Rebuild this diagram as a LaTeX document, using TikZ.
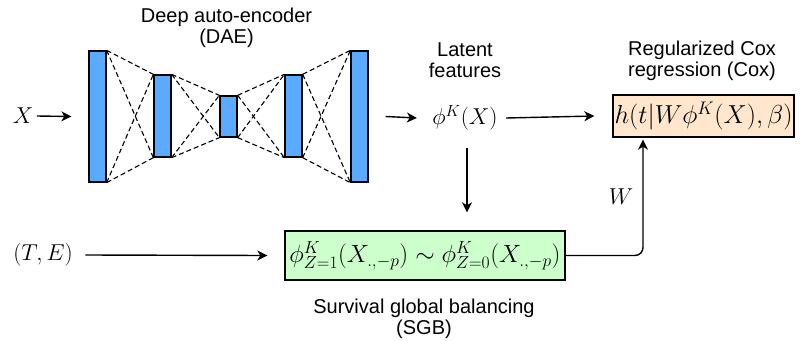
\documentclass[tikz,border=0pt]{standalone}
\usepackage{fix-cm}
\usepackage[no-math]{fontspec}
\newfontfamily\labelfont{Liberation Sans}
\usepackage{tikz}
\usetikzlibrary{arrows.meta,calc,positioning}
\definecolor{daeblue}{HTML}{5AAAFF}
\definecolor{coxfill}{HTML}{FFE6CC}
\definecolor{sgbfill}{HTML}{CCFFCC}

\tikzset{
  layer/.style={draw, line width=1.3pt, fill=daeblue, minimum width=17pt, inner sep=0pt},
  link/.style={line width=1.1pt, dash pattern=on 5pt off 3pt},
  arr/.style={line width=1.4pt, -{Stealth[length=10pt,width=10pt,inset=3pt]}},
  caption/.style={font=\labelfont\fontsize{20}{21}\selectfont, align=center},
  mlabel/.style={font=\fontsize{23}{27}\selectfont},
  mbox/.style={draw, line width=1.4pt, inner sep=0pt}
}

\begin{document}
\begin{tikzpicture}[x=1pt, y=-1pt]
    \useasboundingbox (0,0) rectangle (805,340);

    % auto-encoder layers
    \node[layer, minimum height=131pt] (l1) at (97.5,116.5) {};
    \node[layer, minimum height=82pt]  (l2) at (162.5,116) {};
    \node[layer, minimum height=41pt]  (l3) at (228.5,116.5) {};
    \node[layer, minimum height=82pt]  (l4) at (293.5,116) {};
    \node[layer, minimum height=131pt] (l5) at (359.5,116.5) {};
    \foreach \a/\b in {l1/l2, l2/l3, l3/l4, l4/l5} {
        \draw[link] (\a.north east) -- (\b.north west);
        \draw[link] (\a.north east) -- (\b.south west);
        \draw[link] (\a.south east) -- (\b.north west);
        \draw[link] (\a.south east) -- (\b.south west);
    }
    \node[caption] (daecap) at (226.5,28) {Deep auto-encoder\\(DAE)};

    % inputs and latent features
    \node[mlabel] (x) at (23,116) {$X$};
    \node[mlabel] (te) at (43,255) {$(T,E)$};
    \node[mlabel] (phi) at (465,118) {$\phi^K(X)$};
    \node[caption] (latcap) at (465,60) {Latent\\features};

    % Cox and SGB boxes
    \node[mbox, fill=coxfill, minimum width=181pt, minimum height=42pt,
          font=\fontsize{26}{30}\selectfont] (cox) at (703.5,116)
          {$h(t|W\phi^K(X),\beta)$};
    \node[caption] (coxcap) at (702,61) {Regularized Cox\\regression (Cox)};
    \node[mbox, fill=sgbfill, minimum width=280pt, minimum height=49pt,
          font=\fontsize{25}{29}\selectfont] (sgb) at (425,255.5)
          {$\phi^K_{Z=1}(X_{.,-p}) \sim \phi^K_{Z=0}(X_{.,-p})$};
    \node[caption] (sgbcap) at (424,319) {Survival global balancing\\(SGB)};
    \node[mlabel] (w) at (621,197) {$W$};

    % connectors
    \draw[arr] (x.east) -- ([xshift=-17pt]l1.west);
    \draw[arr] ([xshift=17pt]l5.east) -- ([xshift=-12pt]phi.west);
    \draw[arr] ([xshift=5pt]phi.east) -- ([xshift=-18pt]cox.west);
    \draw[arr] ($(phi.center)+(2,30)$) -- ($(phi.center |- sgb.north)+(2,-18)$);
    \draw[arr] ([xshift=9pt]te.east) -- ([xshift=-17pt]sgb.west);
    \draw[arr, rounded corners=8pt, shorten >=2pt] (sgb.east) -| ([xshift=-60.5pt]cox.south);
\end{tikzpicture}
\end{document}
